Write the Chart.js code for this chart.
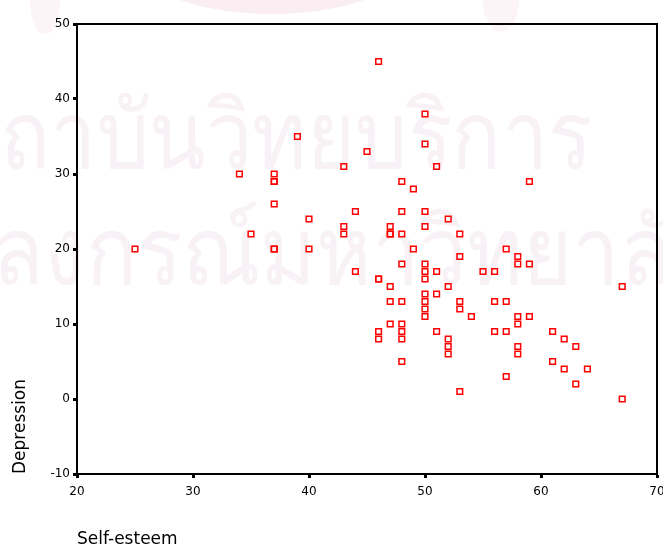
<!DOCTYPE html>
<html>
<head>
<meta charset="utf-8">
<script src="https://cdn.jsdelivr.net/npm/chart.js@4/dist/chart.umd.min.js"></script>
<style>
  html, body { margin: 0; padding: 0; background: #ffffff; }
  #wrap { width: 663px; height: 548px; }
</style>
</head>
<body>
<div id="wrap"><canvas id="c" width="663" height="548"></canvas></div>
<script>
// ---- Data ----
const selfEsteem = [
  25,
  34,
  35,
  37, 37, 37, 37, 37, 37,
  39,
  40, 40,
  43, 43, 43,
  44, 44,
  45,
  46, 46, 46, 46, 46,
  47, 47, 47, 47, 47, 47,
  48, 48, 48, 48, 48, 48, 48, 48, 48,
  49, 49,
  50, 50, 50, 50, 50, 50, 50, 50, 50, 50, 50,
  51, 51, 51, 51,
  52, 52, 52, 52, 52,
  53, 53, 53, 53, 53,
  54,
  55,
  56, 56, 56,
  57, 57, 57, 57,
  58, 58, 58, 58, 58, 58,
  59, 59, 59,
  61, 61,
  62, 62,
  63, 63,
  64,
  67, 67
];
const depression = [
  20,
  30,
  22,
  30, 29, 29, 26, 20, 20,
  35,
  24, 20,
  31, 23, 22,
  25, 17,
  33,
  45, 16, 16, 9, 8,
  23, 22, 22, 15, 13, 10,
  29, 25, 22, 18, 13, 10, 9, 8, 5,
  28, 20,
  38, 34, 25, 23, 18, 17, 16, 14, 13, 12, 11,
  31, 17, 14, 9,
  24, 15, 8, 7, 6,
  22, 19, 13, 12, 1,
  11,
  17,
  17, 13, 9,
  20, 13, 9, 3,
  19, 18, 11, 10, 7, 6,
  29, 18, 11,
  9, 5,
  8, 4,
  7, 2,
  4,
  15, 0
];
const xTickValues = [20, 30, 40, 50, 60, 70];
const yTickValues = [-10, 0, 10, 20, 30, 40, 50];
const xTitle = 'Self-esteem';
const yTitle = 'Depression';
const watermark1 = 'สถาบันวิทยบริการ';
const watermark2 = 'จุฬาลงกรณ์มหาวิทยาลัย';

const points = selfEsteem.map((x, i) => ({ x: x, y: depression[i] }));

const bgPlugin = {
  id: 'bg',
  beforeDraw(chart) {
    const ctx = chart.ctx;
    ctx.save();
    ctx.fillStyle = '#ffffff';
    ctx.fillRect(0, 0, chart.width, chart.height);
    // faint seal remnants at the top
    ctx.fillStyle = '#fbeef3';
    ctx.beginPath();
    ctx.ellipse(272, -38, 135, 52, 0, 0, Math.PI * 2);
    ctx.fill();
    ctx.fillStyle = '#fcf4f7';
    ctx.beginPath();
    ctx.ellipse(45, 0, 15, 34, 0, 0, Math.PI * 2);
    ctx.fill();
    ctx.beginPath();
    ctx.ellipse(501, 0, 18, 32, 0, 0, Math.PI * 2);
    ctx.fill();
    // faint watermark text
    ctx.fillStyle = '#f8f1f6';
    ctx.textBaseline = 'alphabetic';
    ctx.font = '94px "Noto Sans", "DejaVu Sans", sans-serif';
    const p1 = ctx.measureText(watermark1.slice(0, 1)).width;
    const w1 = ctx.measureText(watermark1).width;
    const sx1 = 592 / (w1 - p1);
    ctx.save();
    ctx.translate(-p1 * sx1, 168);
    ctx.scale(sx1, 1);
    ctx.fillText(watermark1, 0, 0);
    ctx.restore();
    const p2 = ctx.measureText(watermark2.slice(0, 4)).width;
    const q2 = ctx.measureText(watermark2.slice(0, watermark2.length - 1)).width;
    const sx2 = 680 / (q2 - p2);
    ctx.save();
    ctx.translate(-p2 * sx2 - 8, 284);
    ctx.scale(sx2, 1);
    ctx.fillText(watermark2, 0, 0);
    ctx.restore();
    ctx.restore();
  }
};

const framePlugin = {
  id: 'frame',
  beforeDatasetsDraw(chart) {
    const a = chart.chartArea;
    const ctx = chart.ctx;
    ctx.save();
    ctx.strokeStyle = '#000000';
    ctx.lineWidth = 2;
    ctx.strokeRect(a.left, a.top, a.right - a.left, a.bottom - a.top);
    ctx.restore();
  }
};

new Chart(document.getElementById('c'), {
  type: 'scatter',
  data: {
    datasets: [{
      data: points,
      pointStyle: 'rect',
      pointRadius: 4,
      pointHoverRadius: 4,
      borderColor: '#ff0000',
      backgroundColor: 'rgba(0,0,0,0)',
      pointBorderWidth: 1.5
    }]
  },
  options: {
    responsive: false,
    animation: false,
    devicePixelRatio: 1,
    layout: { padding: { top: 24, right: 6, left: 0, bottom: 0 } },
    plugins: {
      legend: { display: false },
      tooltip: { enabled: false }
    },
    scales: {
      x: {
        type: 'linear',
        min: 20, max: 70,
        afterBuildTicks(scale) { scale.ticks = xTickValues.map(v => ({ value: v })); },
        afterFit(scale) { scale.height = 74; scale.paddingRight = 0; scale.paddingLeft = 0; },
        grid: { drawOnChartArea: false, drawTicks: true, tickLength: 4, tickWidth: 3, tickColor: '#000' },
        border: { display: true, color: '#000', width: 2 },
        ticks: { color: '#000', font: { family: '"DejaVu Sans", sans-serif', size: 12 }, padding: 7, maxRotation: 0 },
        title: {
          display: true, text: xTitle, align: 'start', color: '#000',
          font: { family: '"DejaVu Sans", sans-serif', size: 17 },
          padding: { top: 0, bottom: -2 }
        }
      },
      y: {
        type: 'linear',
        min: -10, max: 50,
        afterBuildTicks(scale) { scale.ticks = yTickValues.map(v => ({ value: v })); },
        afterFit(scale) { scale.width = 77; scale.paddingTop = 0; scale.paddingBottom = 0; },
        grid: { drawOnChartArea: false, drawTicks: true, tickLength: 4, tickWidth: 3, tickColor: '#000' },
        border: { display: true, color: '#000', width: 2 },
        ticks: { color: '#000', font: { family: '"DejaVu Sans", sans-serif', size: 12 }, padding: 3 },
        title: {
          display: true, text: yTitle, align: 'start', color: '#000',
          font: { family: '"DejaVu Sans", sans-serif', size: 17 },
          padding: { top: 10, bottom: 0 }
        }
      }
    }
  },
  plugins: [bgPlugin, framePlugin]
});
</script>
</body>
</html>
